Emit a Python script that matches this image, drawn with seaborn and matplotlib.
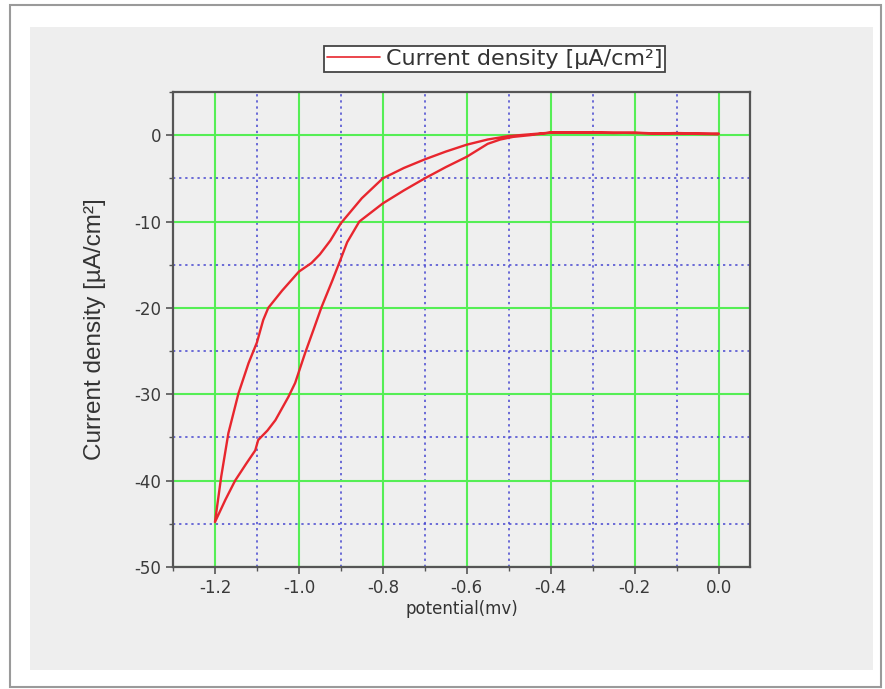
import matplotlib
matplotlib.use("Agg")
import matplotlib.pyplot as plt
import seaborn as sns
import pandas as pd
from matplotlib.patches import Rectangle
from matplotlib.ticker import MultipleLocator

# ---- data ----
flat_x = [0.0, -0.05, -0.10, -0.15, -0.20, -0.25, -0.30, -0.35, -0.40, -0.45]
flat_fwd_y = [0.1, 0.15, 0.2, 0.2, 0.25, 0.3, 0.3, 0.3, 0.3, 0.1]

upper_x = [-0.50, -0.55, -0.60, -0.65, -0.70, -0.75, -0.80, -0.85, -0.90, -0.925,
           -0.95, -0.97, -1.00, -1.04, -1.073, -1.085, -1.10, -1.12, -1.144, -1.168,
           -1.185, -1.20]
upper_y = [-0.1, -0.5, -1.1, -1.9, -2.8, -3.8, -5.0, -7.3, -10.2, -12.2,
           -13.8, -14.8, -15.8, -18.0, -20.0, -21.4, -24.0, -26.4, -29.9, -34.5,
           -39.5, -44.8]

lower_x = [-1.175, -1.152, -1.125, -1.104, -1.097, -1.075, -1.056, -1.025, -1.009,
           -0.985, -0.965, -0.946, -0.92, -0.90, -0.885, -0.856, -0.80, -0.75, -0.70,
           -0.65, -0.60, -0.55, -0.52, -0.49]
lower_y = [-42.2, -40.0, -38.0, -36.5, -35.3, -34.2, -33.0, -30.3, -28.7,
           -25.2, -22.5, -19.9, -16.8, -14.3, -12.4, -10.0, -7.9, -6.4, -5.0,
           -3.7, -2.5, -1.0, -0.5, -0.2]

flat_rev_y = [0.2, 0.2, 0.25, 0.2, 0.3, 0.25, 0.3, 0.35, 0.3, 0.0]

x_ticks = [-1.2, -1.0, -0.8, -0.6, -0.4, -0.2, 0.0]
x_ticklabels = ["-1.2", "-1.0", "-0.8", "-0.6", "-0.4", "-0.2", "0.0"]
y_ticks = [0, -10, -20, -30, -40, -50]
y_ticklabels = ["0", "-10", "-20", "-30", "-40", "-50"]

series_label = "Current density [\u00b5A/cm\u00b2]"
x_label = "potential(mv)"
y_label = "Current density [\u00b5A/cm\u00b2]"

potential = flat_x + upper_x + lower_x + flat_x[::-1]
current = flat_fwd_y + upper_y + lower_y + flat_rev_y[::-1]
df = pd.DataFrame({"potential": potential, "current": current})

# ---- figure ----
sns.set_style("ticks")
plt.rcParams["font.family"] = ["DejaVu Sans"]

W, H = 885, 689
fig = plt.figure(figsize=(W / 100, H / 100), dpi=100)
fig.patch.set_facecolor("white")


def frect(x0, y0, x1, y1, **kw):
    return Rectangle((x0 / W, 1 - y1 / H), (x1 - x0) / W, (y1 - y0) / H,
                     transform=fig.transFigure, **kw)


fig.patches.append(frect(10, 5, 881, 687, facecolor="white", edgecolor="#9a9a9a",
                         lw=1.5, zorder=-3))
fig.patches.append(frect(30, 27, 873, 670, facecolor="#eeeeee", edgecolor="none",
                         zorder=-2))

ax = fig.add_axes([173 / W, 1 - 567 / H, (750 - 173) / W, (567 - 92) / H])
ax.set_zorder(1)
ax.set_facecolor("#efefef")

sns.lineplot(data=df, x="potential", y="current", sort=False, estimator=None,
             color="#e8262e", lw=1.7, ax=ax, label=series_label, legend=False)

ax.set_xlim(-1.3, 0.075)
ax.set_ylim(-50, 5)
ax.xaxis.set_minor_locator(MultipleLocator(0.1))
ax.yaxis.set_minor_locator(MultipleLocator(5))
ax.set_xticks(x_ticks)
ax.set_xticklabels(x_ticklabels)
ax.set_yticks(y_ticks)
ax.set_yticklabels(y_ticklabels)

ax.set_axisbelow(True)
ax.grid(which="major", color="#55ee55", lw=1.5, ls="-")
ax.grid(which="minor", color="#4646d0", lw=1.1, ls=(0, (1.5, 2.5)))

for s in ax.spines.values():
    s.set_visible(True)
    s.set_color("#555555")
    s.set_linewidth(1.6)

ax.tick_params(which="major", direction="out", length=5, width=1.2, color="#555555",
               labelsize=12, labelcolor="#3a3a3a")
ax.tick_params(which="minor", direction="out", length=3, width=1.0, color="#555555")

ax.set_xlabel(x_label, fontsize=12, color="#333333", labelpad=2)
ax.set_ylabel(y_label, fontsize=17.5, color="#333333", labelpad=20,
              family="Liberation Sans")

handles, labels = ax.get_legend_handles_labels()
leg = fig.legend(handles, labels, loc="center",
                 bbox_to_anchor=(494.5 / W, 1 - 59 / H),
                 fontsize=16, frameon=True, fancybox=False, framealpha=1,
                 edgecolor="#444444", facecolor="white", handlelength=2.4,
                 handletextpad=0.25, borderpad=0.12, borderaxespad=0)
leg.set_zorder(5)
leg.get_frame().set_linewidth(1.3)
for line in leg.get_lines():
    line.set_linewidth(1.2)
for t in leg.get_texts():
    t.set_color("#333333")

fig.savefig("out.png", dpi=100)
